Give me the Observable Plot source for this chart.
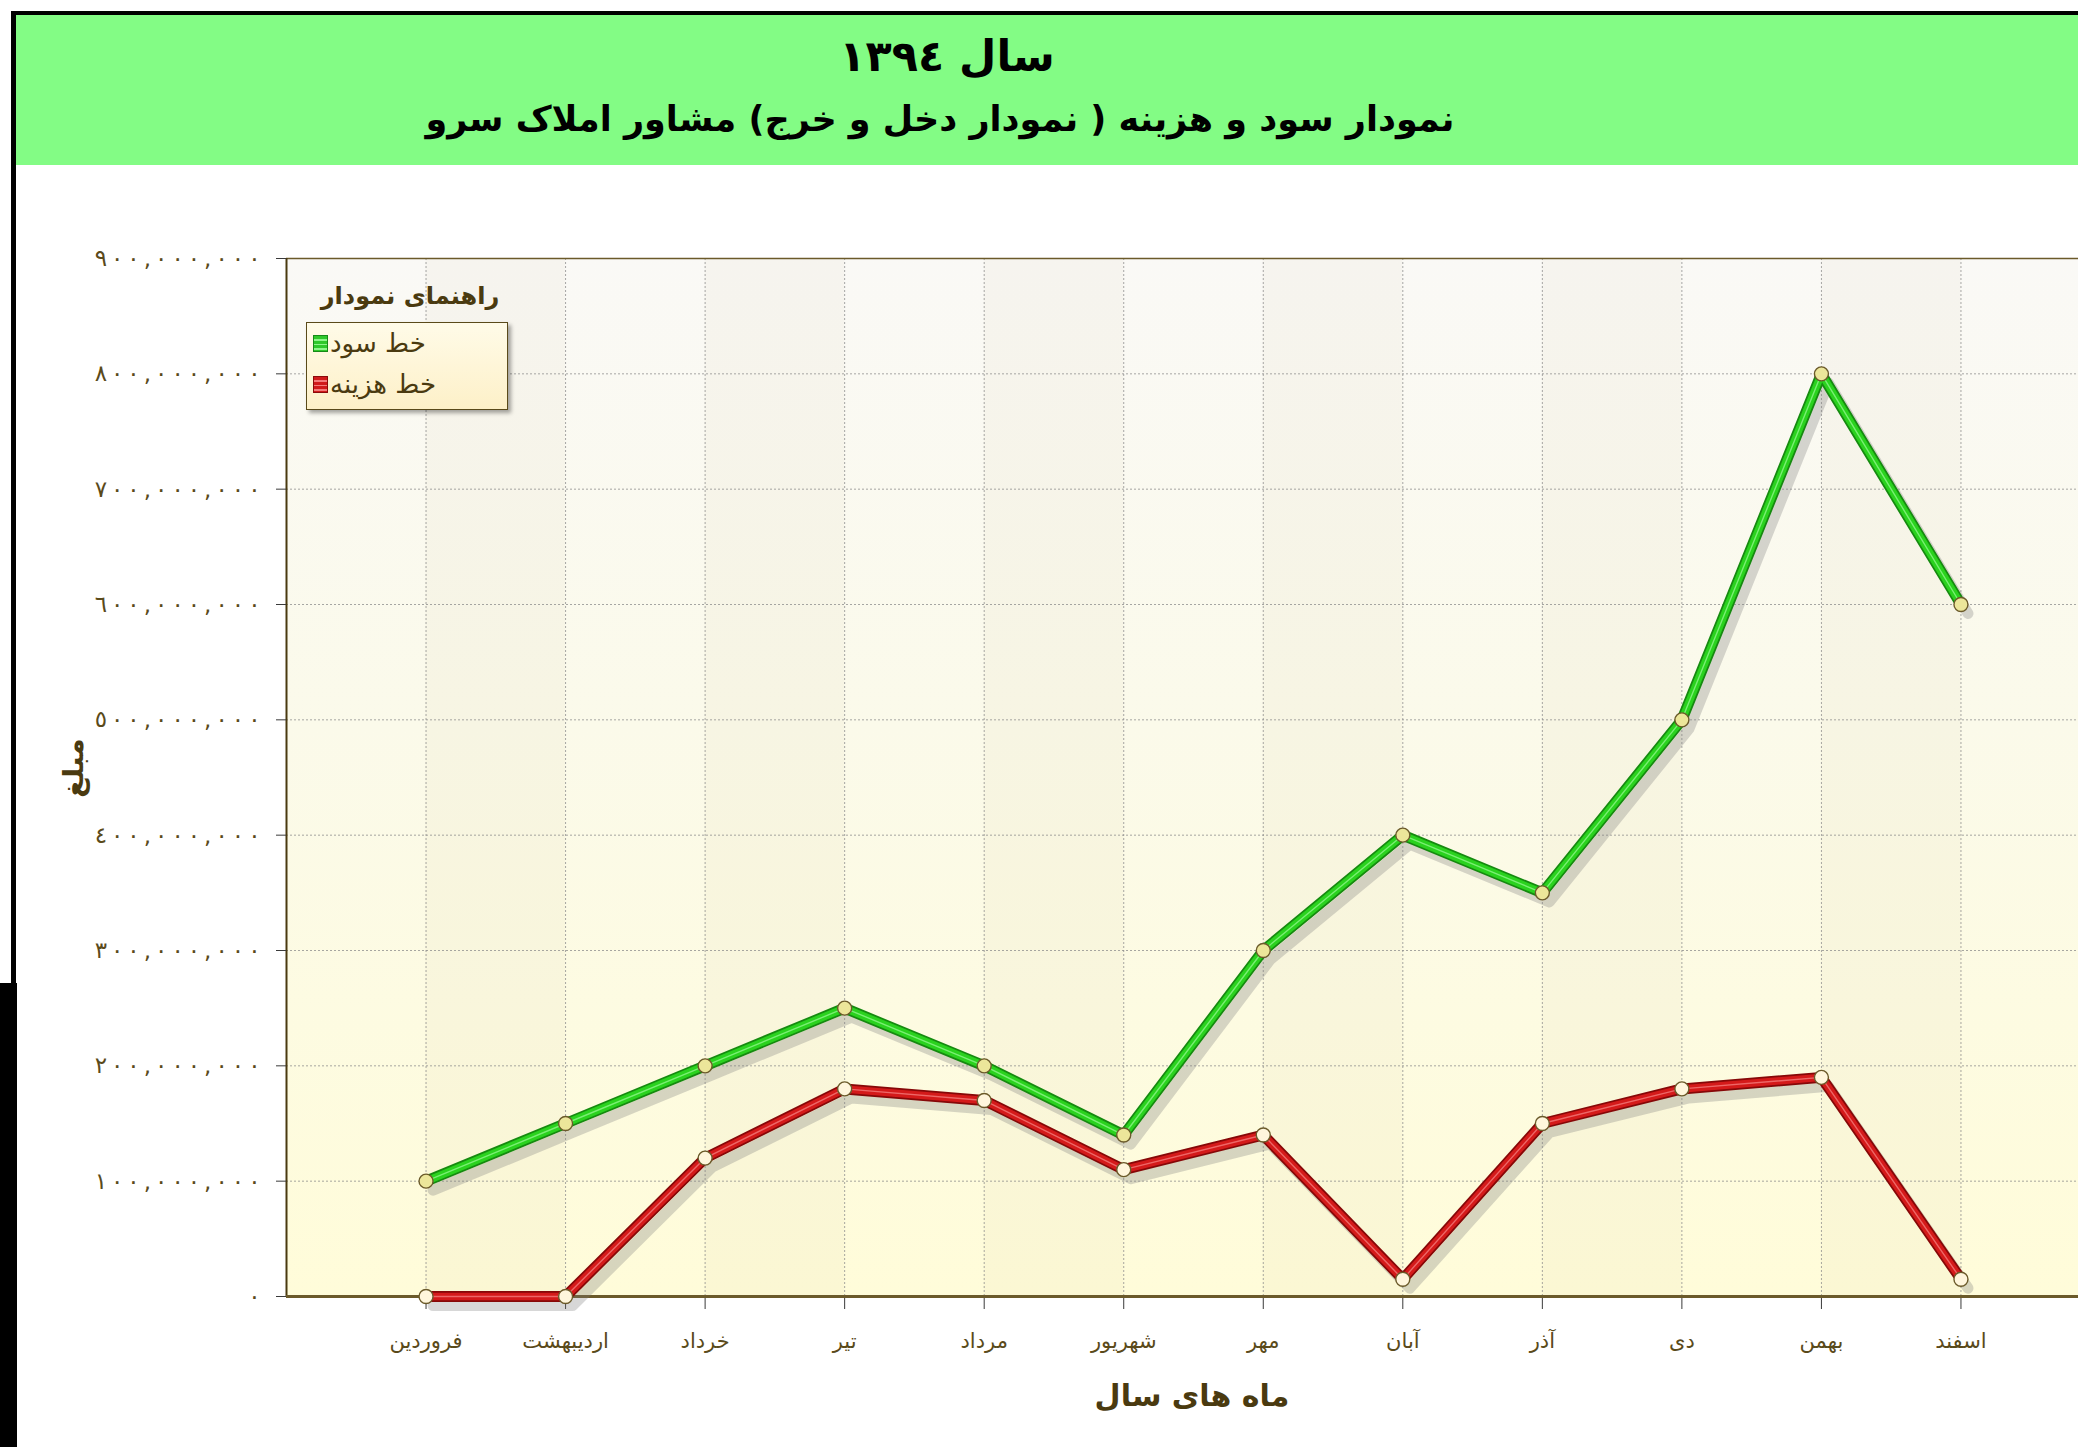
<!DOCTYPE html>
<html>
<head>
<meta charset="utf-8">
<script src="https://cdn.jsdelivr.net/npm/d3@7"></script>
<script src="https://cdn.jsdelivr.net/npm/@observablehq/plot@0.6"></script>
<style>
  html, body { margin: 0; padding: 0; background: #fff; }
  #root { position: relative; width: 2078px; height: 1447px; overflow: hidden; background: #fff; font-family: "DejaVu Sans", sans-serif; }
  .abs { position: absolute; }
  #topline { left: 11px; top: 11px; right: 0; height: 4px; background: #000; }
  #leftline { left: 11px; top: 11px; width: 5px; height: 975px; background: #000; }
  #leftblock { left: 0; top: 983px; width: 17px; bottom: 0; background: #000; }
  #header { left: 16px; top: 15px; right: 0; height: 150px; background: #83fc85; }
  .title { transform: translate(-50%, -50%); white-space: nowrap; font-weight: bold; color: #000; direction: rtl; }
  #t1 { left: 947px; top: 56px; font-size: 43px; }
  #t2 { left: 940px; top: 119px; font-size: 35px; }
  #chart { left: 0; top: 166px; }
  #chart svg { max-width: none !important; }
  #ytitle { left: 73px; top: 768px; transform: translate(-50%, -50%) rotate(-90deg); font-size: 28px; font-weight: bold; color: #4a3a10; white-space: nowrap; }
  #xtitle { left: 1192px; top: 1395px; transform: translate(-50%, -50%); font-size: 30px; font-weight: bold; color: #4a3a10; white-space: nowrap; direction: rtl; }
  #legtitle { left: 410px; top: 296px; transform: translate(-50%, -50%); font-size: 24px; font-weight: bold; color: #4a3a10; white-space: nowrap; direction: rtl; }
  #legbox { left: 306px; top: 322px; width: 200px; height: 86px; border: 1.5px solid #5a4a1a; background: linear-gradient(#fffbe8, #fdf0c8); box-shadow: 3px 3px 4px rgba(0,0,0,0.35); }
  .legrow { position: absolute; left: 6px; display: flex; align-items: center; direction: ltr; font-size: 26px; color: #4a3a10; }
  .sw { width: 15px; height: 17px; margin-right: 2px; box-sizing: border-box; }
</style>
</head>
<body>
<div id="root">
  <div id="header" class="abs"></div>
  <div id="topline" class="abs"></div>
  <div id="leftline" class="abs"></div>
  <div id="leftblock" class="abs"></div>
  <div id="t1" class="abs title"></div>
  <div id="t2" class="abs title"></div>
  <div id="chart" class="abs"></div>
  <div id="ytitle" class="abs"></div>
  <div id="xtitle" class="abs"></div>
  <div id="legtitle" class="abs"></div>
  <div id="legbox" class="abs"></div>
</div>
<script>
// ---------- data ----------
const titleLine1 = "سال ١٣٩٤";
const titleLine2 = "نمودار سود و هزینه ( نمودار دخل و خرج) مشاور املاک سرو";
const yTitle = "مبلغ";
const xTitle = "ماه های سال";
const legendTitle = "راهنمای نمودار";
const months = ["فروردین", "اردیبهشت", "خرداد", "تیر", "مرداد", "شهریور", "مهر", "آبان", "آذر", "دی", "بهمن", "اسفند"];
const profit = [100e6, 150e6, 200e6, 250e6, 200e6, 140e6, 300e6, 400e6, 350e6, 500e6, 800e6, 600e6];
const cost = [0, 0, 120e6, 180e6, 170e6, 110e6, 140e6, 15e6, 150e6, 180e6, 190e6, 15e6];
const seriesNames = ["خط سود", "خط هزینه"];
const yTicks = [0, 100e6, 200e6, 300e6, 400e6, 500e6, 600e6, 700e6, 800e6, 900e6];

// ---------- styles ----------
const seriesStyle = [
  { outline: "#168a10", core: "#2ad21e", hi: "#8ef58a", dotFill: "#ece69a", swatch: "#2fc82a", swBorder: "#178a17" },
  { outline: "#860808", core: "#d41a1a", hi: "#f37a7a", dotFill: "#fff6dc", swatch: "#d01a1a", swBorder: "#8a0a0a" }
];
const brown = "#5a4a1a";

// texts
document.getElementById("t1").textContent = titleLine1;
document.getElementById("t2").textContent = titleLine2;
document.getElementById("ytitle").textContent = yTitle;
document.getElementById("xtitle").textContent = xTitle;
document.getElementById("legtitle").textContent = legendTitle;

// legend
const legbox = document.getElementById("legbox");
seriesNames.forEach((name, k) => {
  const row = document.createElement("div");
  row.className = "legrow";
  row.style.top = (5 + k * 41) + "px";
  const sw = document.createElement("div");
  sw.className = "sw";
  const s = seriesStyle[k];
  sw.style.border = "1px solid " + s.swBorder;
  sw.style.background = `repeating-linear-gradient(${s.swatch} 0px, ${s.swatch} 3px, ${s.hi} 3px, ${s.hi} 4.5px)`;
  const tx = document.createElement("span");
  tx.textContent = name;
  tx.style.direction = "rtl";
  row.appendChild(sw);
  row.appendChild(tx);
  legbox.appendChild(row);
});

// ---------- table ----------
const rows = [profit, cost].map((vals, k) => months.map((m, i) => ({ i: i + 1, month: m, value: vals[i], k })));
const bands = d3.range(0, months.length + 1).filter(j => j % 2 === 1).map(j => ({ x1: j, x2: j + 1 }));

const toArabicDigits = s => s.replace(/\d/g, c => "٠١٢٣٤٥٦٧٨٩"[+c]);
const fmt = d => toArabicDigits(d3.format(",")(d));

const defs = () => {
  const ns = "http://www.w3.org/2000/svg";
  const d = document.createElementNS(ns, "defs");
  d.innerHTML = `
    <linearGradient id="bg" x1="0" y1="0" x2="0" y2="1">
      <stop offset="0" stop-color="#faf9f6"/>
      <stop offset="0.45" stop-color="#fbfaea"/>
      <stop offset="1" stop-color="#fffcd9"/>
    </linearGradient>`;
  return d;
};

const lineMarks = [];
rows.forEach((data, k) => {
  lineMarks.push(Plot.line(data, { x: "i", y: "value", stroke: "#7a7a7a", strokeOpacity: 0.3, strokeWidth: 11, dx: 7, dy: 9 }));
});
rows.forEach((data, k) => {
  const s = seriesStyle[k];
  lineMarks.push(Plot.line(data, { x: "i", y: "value", stroke: s.outline, strokeWidth: 11 }));
  lineMarks.push(Plot.line(data, { x: "i", y: "value", stroke: s.core, strokeWidth: 7.5 }));
  lineMarks.push(Plot.line(data, { x: "i", y: "value", stroke: s.hi, strokeWidth: 1.4, strokeOpacity: 0.8 }));
});
rows.forEach((data, k) => {
  const s = seriesStyle[k];
  lineMarks.push(Plot.dot(data, { x: "i", y: "value", r: 7, fill: s.dotFill, stroke: "#6b5a2a", strokeWidth: 1.4 }));
});

const chart = Plot.plot({
  width: 2100,
  height: 1281,
  marginLeft: 286,
  marginRight: 0,
  marginTop: 92,
  marginBottom: 151,
  x: { domain: [0, months.length + 1], axis: null },
  y: { domain: [0, 900e6], axis: null },
  style: { background: "transparent", fontFamily: "DejaVu Sans", overflow: "visible", maxWidth: "none" },
  marks: [
    defs,
    Plot.frame({ fill: "url(#bg)", stroke: "none" }),
    Plot.rect(bands, { x1: "x1", x2: "x2", y1: 0, y2: 900e6, fill: "#8a7a40", fillOpacity: 0.035 }),
    Plot.gridY(yTicks, { stroke: "#8a8a8a", strokeOpacity: 0.75, strokeDasharray: "2,2" }),
    Plot.gridX(d3.range(1, months.length + 1), { stroke: "#8a8a8a", strokeOpacity: 0.75, strokeDasharray: "2,2" }),
    Plot.ruleY([900e6], { stroke: "#6b5a2a", strokeWidth: 1.5 }),
    Plot.ruleX([0], { stroke: "#4a3a10", strokeWidth: 2 }),
    Plot.axisY(yTicks, { label: null, tickSize: 10, tickPadding: 16, tickFormat: fmt, fontSize: 23, stroke: "#3a3a3a", fill: brown }),
    Plot.axisX(d3.range(1, months.length + 1), { label: null, tickSize: 13, tickPadding: 24, tickFormat: i => months[i - 1], fontSize: 21, stroke: "#3a3a3a", fill: brown }),
    Plot.ruleY([0], { stroke: "#6b5a2a", strokeWidth: 3 }),
    ...lineMarks
  ]
});
chart.style.maxWidth = "none";
// spread the digits of the y tick labels (per-glyph dx; Arabic digits ignore letter-spacing)
chart.querySelectorAll("g").forEach(g => {
  const lab = g.getAttribute("aria-label") || "";
  if (lab.startsWith("y-axis tick label")) {
    g.querySelectorAll("text").forEach(t => {
      const n = (t.textContent || "").length;
      const d = Array.from({ length: n }, (_, j) => (j === 0 ? 0 : 4));
      t.setAttribute("dx", d.join(" "));
      t.setAttribute("direction", "ltr");
    });
  }
});
document.getElementById("chart").appendChild(chart);
</script>
</body>
</html>
